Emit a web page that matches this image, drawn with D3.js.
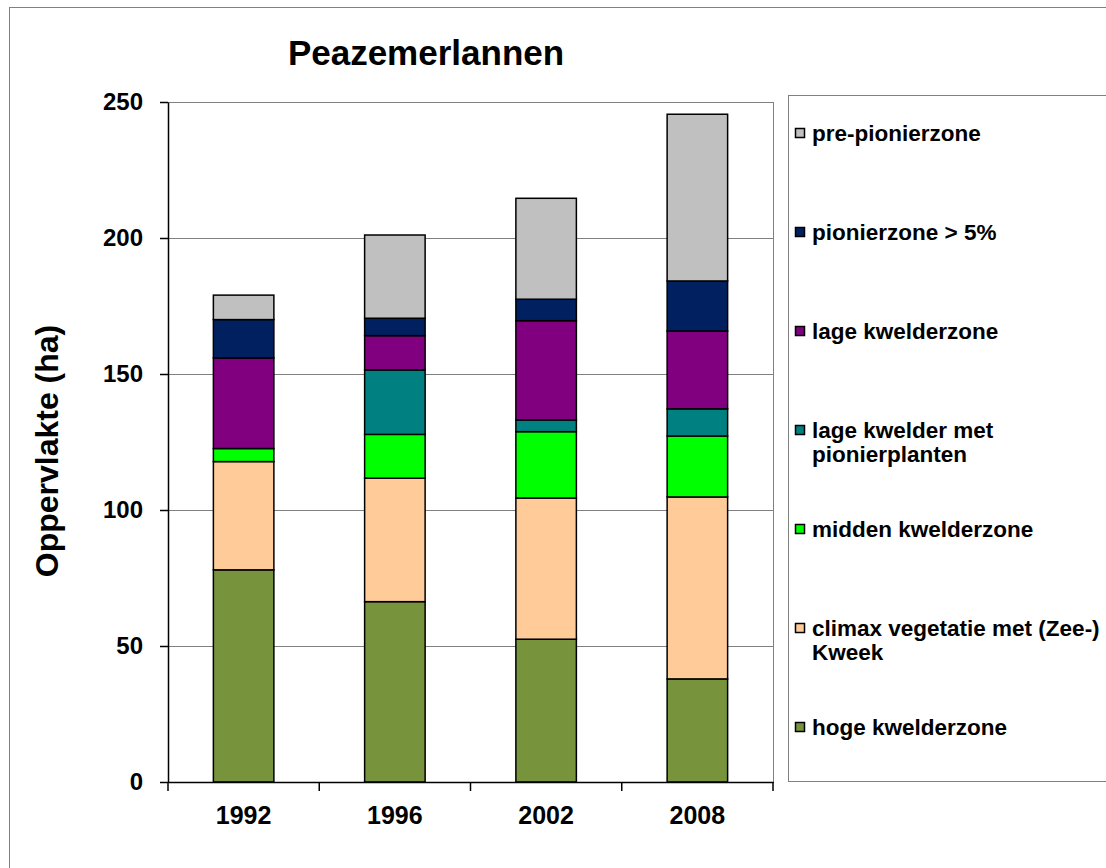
<!DOCTYPE html>
<html>
<head>
<meta charset="utf-8">
<script src="https://cdn.jsdelivr.net/npm/d3@7"></script>
<style>
  body { margin: 0; background: #fff; }
  text { font-family: "Liberation Sans", Arial, sans-serif; font-weight: bold; fill: #000; }
  .grid line { stroke: #808080; stroke-width: 1; }
  .grid path { display: none; }
  .as path, .as line { stroke: #000; stroke-width: 1.5; }
</style>
</head>
<body>
<script>
// De jaren op de x as.
var jaren = ["1992", "1996", "2002", "2008"];

// Oppervlakte per zone in ha (van onder naar boven gestapeld).
var hogeKwelderzone    = [78.0, 66.3, 52.5, 37.9];
var climaxVegetatie    = [39.8, 45.4, 51.9, 66.9];
var middenKwelderzone  = [4.8, 16.1, 24.4, 22.4];
var lageKwelderPionier = [0.0, 23.7, 4.3, 10.0];
var lageKwelderzone    = [33.3, 12.6, 36.5, 28.6];
var pionierzone        = [14.1, 6.4, 7.9, 18.4];
var prePionierzone     = [9.0, 30.6, 37.1, 61.3];

// Namen van de zones en de labels in de legenda.
var zones = ["hoge", "climax", "midden", "lagePionier", "lage", "pionier", "pre"];
var legendaLabels = [
  ["hoge kwelderzone"],
  ["climax vegetatie met (Zee-)", "Kweek"],
  ["midden kwelderzone"],
  ["lage kwelder met", "pionierplanten"],
  ["lage kwelderzone"],
  ["pionierzone > 5%"],
  ["pre-pionierzone"]
];
var kleuren = ["#77933c", "#ffcc99", "#00ff00", "#008080", "#800080", "#002060", "#c0c0c0"];

// Tick waarden van de y as.
var yTicks = [0, 50, 100, 150, 200, 250];

// De verhoudingen en de margin van de grafiek.
var margin = {top: 102, right: 333, bottom: 86, left: 168},
    width = 1106 - margin.left - margin.right,
    height = 868 - margin.top - margin.bottom;

// Tabel voor d3.stack opbouwen uit de losse reeksen.
var reeksen = [hogeKwelderzone, climaxVegetatie, middenKwelderzone, lageKwelderPionier,
               lageKwelderzone, pionierzone, prePionierzone];
var tabel = jaren.map(function(j, i) {
  var rij = {jaar: j};
  zones.forEach(function(z, k) { rij[z] = reeksen[k][i]; });
  return rij;
});
var stapels = d3.stack().keys(zones)(tabel);

var svg = d3.select("body").append("svg")
    .attr("width", 1106)
    .attr("height", 868);

// Rand om de hele grafiek.
svg.append("rect")
    .attr("x", 9.5).attr("y", 7.5)
    .attr("width", 1120).attr("height", 880)
    .attr("fill", "none")
    .attr("stroke", "#808080");

var g = svg.append("g")
    .attr("transform", "translate(" + margin.left + "," + margin.top + ")");

// Schalen.
var x = d3.scaleBand().domain(jaren).range([0, width]).padding(0);
var y = d3.scaleLinear().domain([0, 250]).range([height, 0]);
var barBreedte = x.bandwidth() * 0.4;

// Rand van het plotgebied.
g.append("rect")
    .attr("x", 0.5).attr("y", 0.5)
    .attr("width", width).attr("height", height)
    .attr("fill", "none")
    .attr("stroke", "#808080");

// Gridlijnen.
g.append("g")
    .attr("class", "grid")
    .call(d3.axisLeft(y).tickValues(yTicks.slice(1)).tickSize(-width).tickFormat(""));

// De gestapelde balken.
g.selectAll(".laag")
  .data(stapels)
  .enter().append("g")
    .attr("class", "laag")
    .attr("fill", function(d, i) { return kleuren[i]; })
  .selectAll("rect")
  .data(function(d) { return d; })
  .enter().append("rect")
    .attr("x", function(d) { return x(d.data.jaar) + (x.bandwidth() - barBreedte) / 2; })
    .attr("y", function(d) { return y(d[1]); })
    .attr("width", barBreedte)
    .attr("height", function(d) { return y(d[0]) - y(d[1]); })
    .attr("stroke", "#000")
    .attr("stroke-width", 1.5);

// Y as.
var yAs = g.append("g")
    .attr("class", "as")
    .call(d3.axisLeft(y).tickValues(yTicks).tickSize(8).tickSizeOuter(0).tickPadding(17));
yAs.selectAll("text").attr("font-size", "24px");

// X as met ticks tussen de categorieen.
var xAs = g.append("g")
    .attr("class", "as")
    .attr("transform", "translate(0," + height + ")")
    .call(d3.axisBottom(x).tickSize(0).tickPadding(24));
xAs.selectAll("text").attr("font-size", "25px");
var grenzen = jaren.map(function(j) { return x(j); }).concat([width]);
xAs.selectAll(".grens")
  .data(grenzen)
  .enter().append("line")
    .attr("class", "grens")
    .attr("x1", function(d) { return d; })
    .attr("x2", function(d) { return d; })
    .attr("y1", 0).attr("y2", 9);

// Titel.
svg.append("text")
    .attr("x", 426).attr("y", 65)
    .attr("text-anchor", "middle")
    .attr("font-size", "35px")
    .text("Peazemerlannen");

// Y as label.
svg.append("text")
    .attr("transform", "translate(58," + (margin.top + height / 2 + 9) + ") rotate(-90)")
    .attr("text-anchor", "middle")
    .attr("font-size", "32px")
    .text("Oppervlakte (ha)");

// Legenda kader.
svg.append("rect")
    .attr("x", 788.5).attr("y", 95.5)
    .attr("width", 400).attr("height", 686)
    .attr("fill", "#fff")
    .attr("stroke", "#808080");

// Legenda items, van boven (pre-pionierzone) naar onder.
var legenda = svg.selectAll(".legenda")
  .data(d3.range(zones.length).reverse())
  .enter().append("g")
    .attr("class", "legenda")
    .attr("transform", function(d, i) { return "translate(795," + (133 + i * 99) + ")"; });

legenda.append("rect")
    .attr("x", 0.5).attr("y", -4.5)
    .attr("width", 9).attr("height", 9)
    .attr("fill", function(d) { return kleuren[d]; })
    .attr("stroke", "#000")
    .attr("stroke-width", 1.5);

legenda.append("text")
    .attr("x", 17)
    .attr("y", 8)
    .attr("font-size", "22.5px")
    .selectAll("tspan")
    .data(function(d) { return legendaLabels[d]; })
    .enter().append("tspan")
      .attr("x", 17)
      .attr("dy", function(d, i) { return i === 0 ? 0 : 24; })
      .text(function(d) { return d; });
</script>
</body>
</html>
